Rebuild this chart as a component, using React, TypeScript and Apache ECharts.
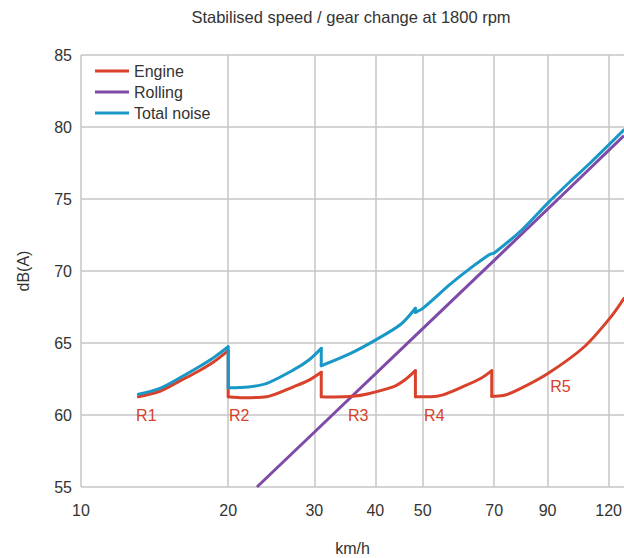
import React, { useEffect, useRef } from "react";
import * as echarts from "echarts";

const TITLE = "Stabilised speed / gear change at 1800 rpm";
const X_NAME = "km/h";
const Y_NAME = "dB(A)";
const X_TICKS = [10, 20, 30, 40, 50, 70, 90, 120];
const X_MIN = 10;
const X_MAX = 129;
const Y_MIN = 55;
const Y_MAX = 85;
const Y_STEP = 5;

const SERIES_NAMES = ["Engine", "Rolling", "Total noise"];

// Engine noise (km/h, dB(A)), gears R1..R5; a repeated speed is a gear-change drop
const engineSpeed = [
  13.1, 14.5, 16.0, 17.3, 18.7, 20,
  20, 21.5, 24, 27.2, 29.2, 31,
  31, 33, 36, 38.5, 43.6, 46, 48.3,
  48.3, 52, 55, 59.8, 65.8, 69.2,
  69.2, 73, 78.2, 90.3, 107, 121.4, 129,
];
const engineDb = [
  61.27, 61.65, 62.4, 63.0, 63.7, 64.47,
  61.27, 61.2, 61.27, 61.96, 62.4, 62.97,
  61.27, 61.25, 61.3, 61.46, 61.97, 62.45, 63.08,
  61.27, 61.27, 61.4, 61.9, 62.55, 63.08,
  61.3, 61.35, 61.74, 62.9, 64.74, 66.83, 68.1,
];

// Rolling noise (km/h, dB(A))
const rollingSpeed = [22.9, 30, 50, 70, 100, 129];
const rollingDb = [55.0, 58.8, 66.0, 70.74, 75.78, 79.4];

// Total noise (km/h, dB(A))
const totalSpeed = [
  13.1, 14.5, 16.0, 17.3, 18.7, 20,
  20, 22, 24, 27.2, 29.2, 31,
  31, 35.6, 40, 45.1, 48.3,
  48.3, 50, 57, 62.6, 68.5,
  70, 80, 90, 100, 110, 129,
];
const totalDb = [
  61.44, 61.85, 62.62, 63.28, 64.0, 64.74,
  61.9, 61.95, 62.2, 63.13, 63.8, 64.63,
  63.42, 64.28, 65.2, 66.3, 67.41,
  67.13, 67.4, 69.1, 70.2, 71.15,
  71.25, 72.9, 74.7, 76.2, 77.5, 79.8,
];

// Gear labels (text, km/h, dB(A))
const gearLabels = ["R1", "R2", "R3", "R4", "R5"];
const gearLabelSpeed = [13.6, 21.06, 36.9, 52.8, 95.6];
const gearLabelDb = [60.0, 60.0, 60.0, 60.0, 62.0];

const RED = "#d8412a";
const PURPLE = "#7e4ba8";
const BLUE = "#1998c8";
const GRID = "#c6c6c6";
const TEXT = "#333333";
const FONT = "'Liberation Sans', Arial, Helvetica, sans-serif";

const toPt = (x: number, y: number) => [Math.log10(x), y];

// Split a curve into smooth pieces and straight vertical drops (repeated speed)
function buildSeries(name: string, xs: number[], ys: number[], color: string, z: number) {
  const out: any[] = [];
  const base = {
    name,
    type: "line",
    showSymbol: false,
    symbol: "none",
    lineStyle: { color, width: 3, cap: "round", join: "round" },
    itemStyle: { color },
    z,
  };
  let cur: number[][] = [toPt(xs[0], ys[0])];
  for (let i = 1; i < xs.length; i++) {
    if (xs[i] === xs[i - 1]) {
      out.push({ ...base, data: cur, smooth: 0.3 });
      out.push({ ...base, data: [toPt(xs[i - 1], ys[i - 1]), toPt(xs[i], ys[i])], smooth: false });
      cur = [toPt(xs[i], ys[i])];
    } else {
      cur.push(toPt(xs[i], ys[i]));
    }
  }
  out.push({ ...base, data: cur, smooth: 0.3 });
  return out;
}

export default function App() {
  const ref = useRef<HTMLDivElement>(null);
  useEffect(() => {
    if (!ref.current) return;
    const chart = echarts.init(ref.current, undefined, { renderer: "svg" });
    const tickVals = X_TICKS.map((v) => Math.log10(v));
    chart.setOption({
      animation: false,
      textStyle: { fontFamily: FONT },
      title: {
        text: TITLE,
        left: 351,
        textAlign: "center",
        top: 8,
        padding: 0,
        textStyle: { fontSize: 16.5, fontWeight: "normal", color: TEXT, fontFamily: FONT },
      },
      legend: {
        data: SERIES_NAMES,
        orient: "vertical",
        left: 95,
        top: 62,
        padding: 0,
        icon: "rect",
        itemWidth: 34,
        itemHeight: 3,
        itemGap: 3,
        textStyle: { fontSize: 16, color: TEXT, fontFamily: FONT, lineHeight: 18 },
      },
      grid: { left: 81, right: 0, top: 55, bottom: 71, containLabel: false, outerBoundsMode: "none" },
      xAxis: {
        type: "value",
        min: Math.log10(X_MIN),
        max: Math.log10(X_MAX),
        name: X_NAME,
        nameLocation: "middle",
        nameGap: 53,
        nameTextStyle: { fontSize: 16, color: TEXT, fontFamily: FONT },
        axisLine: { show: false },
        axisTick: { show: false, customValues: tickVals },
        axisLabel: {
          customValues: tickVals,
          formatter: (v: number) => String(Math.round(Math.pow(10, v))),
          fontSize: 16,
          color: TEXT,
          margin: 15,
          fontFamily: FONT,
        },
        splitLine: { show: true, lineStyle: { color: GRID, width: 1.5 } },
      },
      yAxis: {
        type: "value",
        min: Y_MIN,
        max: Y_MAX,
        interval: Y_STEP,
        name: Y_NAME,
        nameLocation: "middle",
        nameRotate: 90,
        nameGap: 50,
        nameTextStyle: { fontSize: 16, color: TEXT, fontFamily: FONT },
        axisLine: { show: false },
        axisTick: { show: false },
        axisLabel: { fontSize: 16, color: TEXT, margin: 9, fontFamily: FONT },
        splitLine: { show: true, lineStyle: { color: GRID, width: 1.5 } },
      },
      series: [
        ...buildSeries(SERIES_NAMES[0], engineSpeed, engineDb, RED, 3),
        {
          name: SERIES_NAMES[1],
          type: "line",
          data: rollingSpeed.map((s, i) => toPt(s, rollingDb[i])),
          showSymbol: false,
          symbol: "none",
          lineStyle: { color: PURPLE, width: 3 },
          itemStyle: { color: PURPLE },
          z: 2,
        },
        ...buildSeries(SERIES_NAMES[2], totalSpeed, totalDb, BLUE, 4),
        {
          name: "gears",
          type: "scatter",
          silent: true,
          symbolSize: 0,
          itemStyle: { opacity: 1, color: RED },
          data: gearLabels.map((g, i) => [Math.log10(gearLabelSpeed[i]), gearLabelDb[i], g]),
          label: {
            show: true,
            position: "inside",
            formatter: (p: any) => p.data[2],
            color: RED,
            opacity: 1,
            textBorderWidth: 0,
            fontSize: 16,
            fontFamily: FONT,
          },
          z: 5,
        },
      ],
    });
    return () => chart.dispose();
  }, []);
  return (
    <div
      ref={ref}
      style={{ position: "absolute", left: 0, top: 0, width: 624, height: 558, background: "#fff" }}
    />
  );
}
